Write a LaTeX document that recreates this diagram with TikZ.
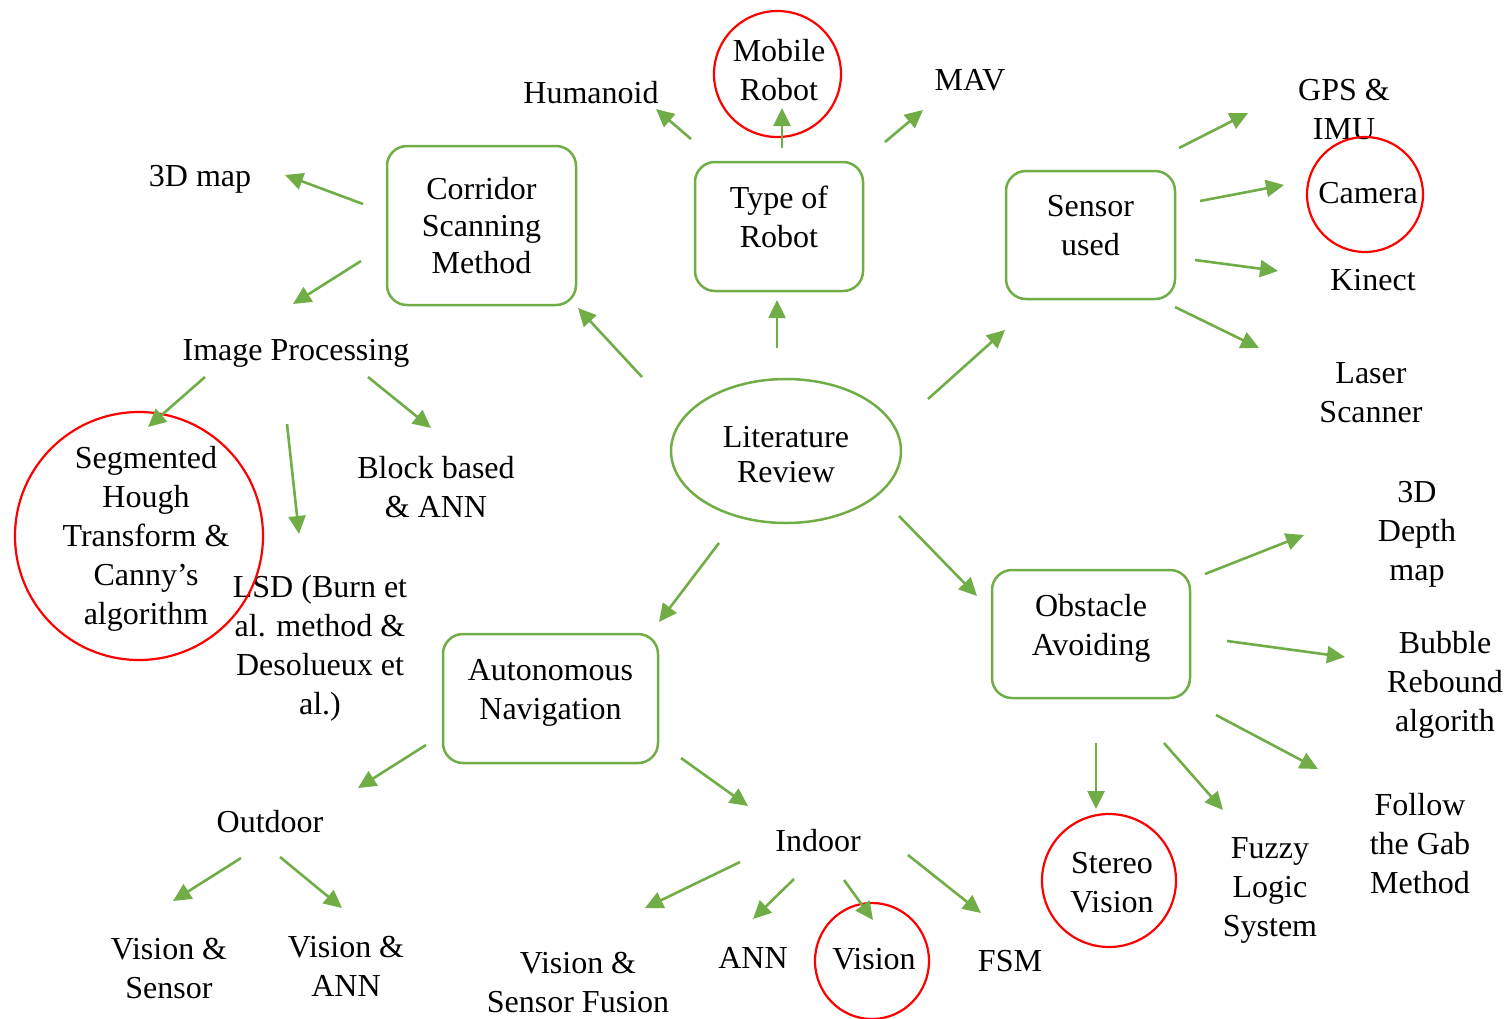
\documentclass[tikz,border=0pt]{standalone}
\usepackage{fontspec}
\setmainfont{Liberation Serif}
\usetikzlibrary{arrows.meta,shapes.geometric}
\definecolor{grn}{HTML}{70AD47}
\definecolor{rd}{HTML}{FF0000}
\begin{document}
\begin{tikzpicture}[x=1pt,y=-1pt,
  txt/.style={align=center,inner sep=0pt,font=\fontsize{32}{39}\selectfont,yshift=-3pt},
  box/.style={draw=grn,line width=2.5pt,rounded corners=20pt,inner sep=0pt,align=center,font=\fontsize{32}{39}\selectfont},
  hl/.style={draw=rd,line width=2.2pt,ellipse,inner sep=0pt},
  arr/.style={draw=grn,line width=2.6pt,-{Triangle[length=18pt,width=17pt]}}]
\useasboundingbox (0,0) rectangle (1508,1018);
% main boxes
\node[box,minimum width=189pt,minimum height=159pt] (cor) at (481.5,225.5) {Corridor\\[-2pt]Scanning\\[-2pt]Method};
\node[box,minimum width=168pt,minimum height=129pt] (typ) at (779,226.5) {Type of\\Robot\rule[-19pt]{0pt}{19pt}};
\node[box,minimum width=169pt,minimum height=128pt] (sen) at (1090.5,235) {Sensor\\used\rule[-19pt]{0pt}{19pt}};
\node[box,minimum width=198pt,minimum height=128pt] (obs) at (1091,634) {Obstacle\\Avoiding\rule[-19pt]{0pt}{19pt}};
\node[box,minimum width=215pt,minimum height=129pt] (aut) at (550.5,698.5) {Autonomous\\Navigation\rule[-18pt]{0pt}{18pt}};
\node[box,ellipse,rounded corners=0pt,minimum width=230pt,minimum height=144pt] (lit) at (786,451) {\rule{0pt}{28pt}Literature\\[-4pt]Review};
% leaf texts
\node[txt] (hum) at (591,90) {Humanoid};
\node[txt] (mob) at (779,67.5) {Mobile\\Robot};
\node[txt] (mav) at (970,77) {MAV};
\node[txt] (gps) at (1344,106.5) {GPS \&\\IMU};
\node[txt] (cam) at (1368,190) {Camera};
\node[txt] (kin) at (1373,277) {Kinect};
\node[txt] (las) at (1371,390) {Laser\\Scanner};
\node[txt] (m3d) at (200,176) {3D map};
\node[txt] (img) at (296,350) {Image Processing};
\node[txt] (blk) at (436,484) {Block based\\\& ANN};
\node[txt] (seg) at (146,536) {Segmented\\Hough\\Transform \&\\Canny’s\\algorithm};
\node[txt] (lsd) at (320,645) {LSD (Burn et\\al. method \&\\Desolueux et\\al.)};
\node[txt] (dep) at (1417,531) {3D\\Depth\\map};
\node[txt] (bub) at (1445,682) {Bubble\\Rebound\\algorith};
\node[txt] (fol) at (1420,841) {Follow\\the Gab\\Method};
\node[txt] (fuz) at (1270,887.5) {Fuzzy\\Logic\\System};
\node[txt] (ste) at (1112,880) {Stereo\\Vision};
\node[txt] (out) at (270,819) {Outdoor};
\node[txt] (vs) at (169,966) {Vision \&\\Sensor};
\node[txt] (va) at (346,963.5) {Vision \&\\ANN};
\node[txt] (ind) at (818,838) {Indoor};
\node[txt] (vsf) at (578,979.5) {Vision \&\\Sensor Fusion};
\node[txt] (ann) at (753,955) {ANN};
\node[txt] (vis) at (874,956) {Vision};
\node[txt] (fsm) at (1010,958) {FSM};
% red highlight circles
\node[hl,minimum width=127pt,minimum height=126pt] (cmob) at (777.5,74) {};
\node[hl,minimum width=116pt,minimum height=115pt] (ccam) at (1365,194.5) {};
\node[hl,minimum width=248pt,minimum height=248pt] (cseg) at (139,536) {};
\node[hl,minimum width=114pt,minimum height=116pt] (cvis) at (872,961) {};
\node[hl,minimum width=134pt,minimum height=133pt] (cste) at (1109,880.5) {};
% connector end points
\coordinate (s1) at (642,377);  \coordinate (e1) at (578,308);
\coordinate (s2) at (777,348);  \coordinate (e2) at (777,300);
\coordinate (s3) at (928,399);  \coordinate (e3) at (1005,330);
\coordinate (s4) at (899,516);  \coordinate (e4) at (977,596);
\coordinate (s5) at (719,543);  \coordinate (e5) at (659,622);
\coordinate (s6) at (691,139);  \coordinate (e6) at (656,109);
\coordinate (s7) at (782,148);  \coordinate (e7) at (782,108);
\coordinate (s8) at (885,142);  \coordinate (e8) at (923,110);
\coordinate (s9) at (1179,148); \coordinate (e9) at (1248,113);
\coordinate (s10) at (1200,201); \coordinate (e10) at (1284,185);
\coordinate (s11) at (1195,260); \coordinate (e11) at (1278,271);
\coordinate (s12) at (1175,307); \coordinate (e12) at (1259,348);
\coordinate (s13) at (363,204); \coordinate (e13) at (285,175);
\coordinate (s14) at (361,261); \coordinate (e14) at (293,304);
\coordinate (s15) at (205,377); \coordinate (e15) at (148,427);
\coordinate (s16) at (287,424); \coordinate (e16) at (299,534);
\coordinate (s17) at (368,377); \coordinate (e17) at (431,428);
\coordinate (s18) at (1205,574); \coordinate (e18) at (1304,535);
\coordinate (s19) at (1227,641); \coordinate (e19) at (1345,657);
\coordinate (s20) at (1216,715); \coordinate (e20) at (1318,769);
\coordinate (s21) at (1096,743); \coordinate (e21) at (1096,809);
\coordinate (s22) at (1164,743); \coordinate (e22) at (1223,810);
\coordinate (s23) at (426,745); \coordinate (e23) at (358,788);
\coordinate (s24) at (681,758); \coordinate (e24) at (748,806);
\coordinate (s25) at (241,858); \coordinate (e25) at (173,901);
\coordinate (s26) at (280,857); \coordinate (e26) at (342,908);
\coordinate (s27) at (740,862); \coordinate (e27) at (645,908);
\coordinate (s28) at (794,879); \coordinate (e28) at (753,919);
\coordinate (s29) at (844,880); \coordinate (e29) at (873,920);
\coordinate (s30) at (908,855); \coordinate (e30) at (981,913);
\foreach \i in {1,...,30} { \draw[arr] (s\i) -- (e\i); }
\end{tikzpicture}
\end{document}
